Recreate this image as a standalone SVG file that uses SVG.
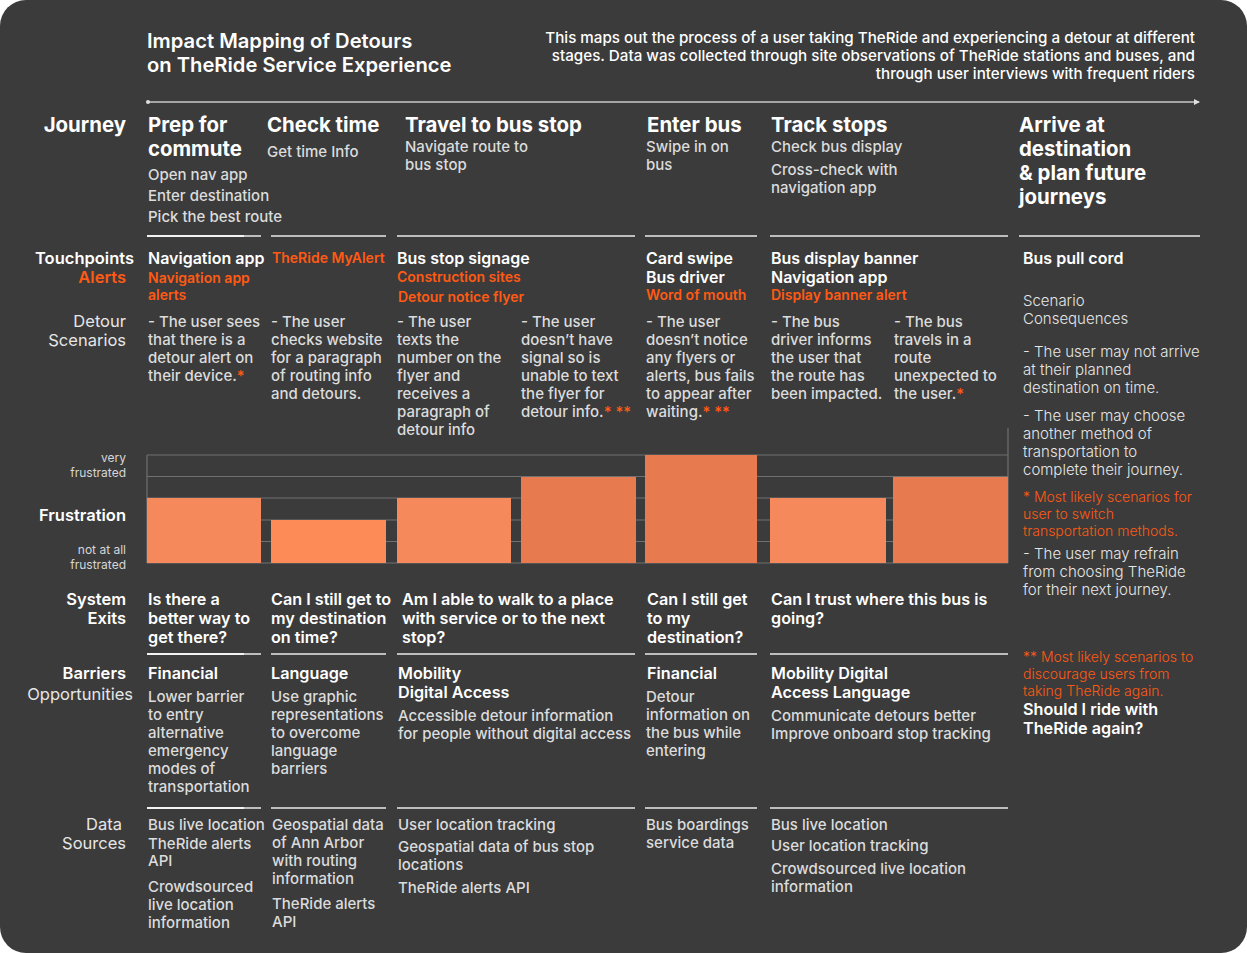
<svg xmlns="http://www.w3.org/2000/svg" width="1247" height="953" viewBox="0 0 1247 953">
<style>
text{font-family:Inter,"Noto Sans","Liberation Sans",sans-serif}
.title{font-size:20.2px;font-weight:600;fill:#ffffff}
.desc{font-size:15.2px;font-weight:500;fill:#ffffff;text-anchor:end}
.h{font-size:20.4px;font-weight:700;fill:#ffffff}
.rl{font-size:16.5px;font-weight:600;fill:#ffffff;text-anchor:end}
.rlr{font-size:16.5px;font-weight:400;fill:#e6e6e6;text-anchor:end}
.sm{font-size:12px;font-weight:400;fill:#d6d6d6;text-anchor:end}
.b{font-size:15px;font-weight:500;fill:#dcdcdc}
.tp{font-size:16px;font-weight:600;fill:#ffffff}
.tpo{font-size:14px;font-weight:600;fill:#ff5a14}
.o{fill:#ff5a14}
.q{font-size:16.2px;font-weight:600;fill:#ffffff}
.bs{font-size:16.2px;font-weight:600;fill:#ffffff}
.rc{font-size:15px;font-weight:300;fill:#e6e6e6}
.rco{font-size:14px;font-weight:300;fill:#ff5a14}
.sep{stroke:#bdbdbd;stroke-width:2}
.sepw{stroke:#f2f2f2;stroke-width:2}
.grid{stroke:#707070;stroke-width:1.2}
.bl{fill:#f5895b}
.bx{fill:#fd8b58}
.bd{fill:#e77b4f}
</style>
<defs>
<marker id="ah" viewBox="0 0 6 6" refX="5" refY="3" markerWidth="6" markerHeight="6" orient="auto" markerUnits="userSpaceOnUse"><path d="M0,0 L6,3 L0,6 z" fill="#e0e0e0"/></marker>
</defs>
<rect x="0" y="0" width="1247" height="953" fill="#ffffff"/>
<rect x="0" y="0" width="1247" height="953" rx="26" fill="#3b3b3b"/>

<g id="header">
<text class="title" x="147" y="48">Impact Mapping of Detours</text>
<text class="title" x="147" y="72">on TheRide Service Experience</text>
<text class="desc" x="1195" y="43">This maps out the process of a user taking TheRide and experiencing a detour at different</text>
<text class="desc" x="1195" y="61">stages. Data was collected through site observations of TheRide stations and buses, and</text>
<text class="desc" x="1195" y="79">through user interviews with frequent riders</text>
</g>

<g id="connectors">
<line x1="148" y1="102" x2="1199" y2="102" stroke="#c8c8c8" stroke-width="1.5" marker-end="url(#ah)"/>
<circle cx="148" cy="102" r="2" fill="#e0e0e0"/>
<g class="sep">
<line x1="147" y1="236" x2="261" y2="236"/><line x1="271" y1="236" x2="386" y2="236"/><line x1="397" y1="236" x2="635" y2="236"/><line x1="645" y1="236" x2="757" y2="236"/><line x1="770" y1="236" x2="1008" y2="236"/><line x1="1019" y1="236" x2="1200" y2="236"/>
<line x1="147" y1="654" x2="261" y2="654"/><line x1="271" y1="654" x2="386" y2="654"/><line x1="397" y1="654" x2="635" y2="654"/><line x1="645" y1="654" x2="757" y2="654"/><line x1="770" y1="654" x2="1008" y2="654"/>
<line x1="147" y1="808" x2="261" y2="808"/><line x1="271" y1="808" x2="386" y2="808"/><line x1="397" y1="808" x2="635" y2="808"/><line x1="645" y1="808" x2="757" y2="808"/><line x1="770" y1="808" x2="1008" y2="808"/>
</g>
<g class="sepw">
<line x1="147" y1="236" x2="244" y2="236"/>
<line x1="147" y1="654" x2="244" y2="654"/>
<line x1="147" y1="808" x2="244" y2="808"/>
</g>
</g>

<g id="journey">
<text class="h" x="126" y="132" text-anchor="end">Journey</text>
<text class="h" x="148" y="132">Prep for</text>
<text class="h" x="148" y="156">commute</text>
<text class="b" x="148" y="180">Open nav app</text>
<text class="b" x="148" y="201">Enter destination</text>
<text class="b" x="148" y="222">Pick the best route</text>
<text class="h" x="267" y="132">Check time</text>
<text class="b" x="267" y="157">Get time Info</text>
<text class="h" x="405" y="132">Travel to bus stop</text>
<text class="b" x="405" y="152">Navigate route to</text>
<text class="b" x="405" y="170">bus stop</text>
<text class="h" x="647" y="132">Enter bus</text>
<text class="b" x="646" y="152">Swipe in on</text>
<text class="b" x="646" y="170">bus</text>
<text class="h" x="771" y="132">Track stops</text>
<text class="b" x="771" y="152">Check bus display</text>
<text class="b" x="771" y="175">Cross-check with</text>
<text class="b" x="771" y="193">navigation app</text>
<text class="h" x="1019" y="132">Arrive at</text>
<text class="h" x="1019" y="156">destination</text>
<text class="h" x="1019" y="180">&amp; plan future</text>
<text class="h" x="1019" y="204">journeys</text>
</g>

<g id="touchpoints">
<text class="rl" x="134" y="264">Touchpoints</text>
<text class="rl o" x="126" y="283">Alerts</text>
<text class="tp" x="148" y="264">Navigation app</text>
<text class="tpo" x="148" y="283">Navigation app</text>
<text class="tpo" x="148" y="300">alerts</text>
<text class="tpo" x="272" y="263">TheRide MyAlert</text>
<text class="tp" x="397" y="264">Bus stop signage</text>
<text class="tpo" x="397" y="282">Construction sites</text>
<text class="tpo" x="398" y="302">Detour notice flyer</text>
<text class="tp" x="646" y="264">Card swipe</text>
<text class="tp" x="646" y="283">Bus driver</text>
<text class="tpo" x="646" y="300">Word of mouth</text>
<text class="tp" x="771" y="264">Bus display banner</text>
<text class="tp" x="771" y="283">Navigation app</text>
<text class="tpo" x="771" y="300">Display banner alert</text>
<text class="tp" x="1023" y="264">Bus pull cord</text>
</g>

<g id="scenarios">
<text class="rlr" x="126" y="327">Detour</text>
<text class="rlr" x="126" y="346">Scenarios</text>
<text class="b" x="148" y="327">- The user sees</text>
<text class="b" x="148" y="345">that there is a</text>
<text class="b" x="148" y="363">detour alert on</text>
<text class="b" x="148" y="381">their device.<tspan class="o">*</tspan></text>
<text class="b" x="271" y="327">- The user</text>
<text class="b" x="271" y="345">checks website</text>
<text class="b" x="271" y="363">for a paragraph</text>
<text class="b" x="271" y="381">of routing info</text>
<text class="b" x="271" y="399">and detours.</text>
<text class="b" x="397" y="327">- The user</text>
<text class="b" x="397" y="345">texts the</text>
<text class="b" x="397" y="363">number on the</text>
<text class="b" x="397" y="381">flyer and</text>
<text class="b" x="397" y="399">receives a</text>
<text class="b" x="397" y="417">paragraph of</text>
<text class="b" x="397" y="435">detour info</text>
<text class="b" x="521" y="327">- The user</text>
<text class="b" x="521" y="345">doesn’t have</text>
<text class="b" x="521" y="363">signal so is</text>
<text class="b" x="521" y="381">unable to text</text>
<text class="b" x="521" y="399">the flyer for</text>
<text class="b" x="521" y="417">detour info.<tspan class="o">* **</tspan></text>
<text class="b" x="646" y="327">- The user</text>
<text class="b" x="646" y="345">doesn’t notice</text>
<text class="b" x="646" y="363">any flyers or</text>
<text class="b" x="646" y="381">alerts, bus fails</text>
<text class="b" x="646" y="399">to appear after</text>
<text class="b" x="646" y="417">waiting.<tspan class="o">* **</tspan></text>
<text class="b" x="771" y="327">- The bus</text>
<text class="b" x="771" y="345">driver informs</text>
<text class="b" x="771" y="363">the user that</text>
<text class="b" x="771" y="381">the route has</text>
<text class="b" x="771" y="399">been impacted.</text>
<text class="b" x="894" y="327">- The bus</text>
<text class="b" x="894" y="345">travels in a</text>
<text class="b" x="894" y="363">route</text>
<text class="b" x="894" y="381">unexpected to</text>
<text class="b" x="894" y="399">the user.<tspan class="o">*</tspan></text>
</g>

<g id="consequences">
<text class="rc" x="1023" y="306">Scenario</text>
<text class="rc" x="1023" y="324">Consequences</text>
<text class="rc" x="1023" y="357">- The user may not arrive</text>
<text class="rc" x="1023" y="375">at their planned</text>
<text class="rc" x="1023" y="393">destination on time.</text>
<text class="rc" x="1023" y="421">- The user may choose</text>
<text class="rc" x="1023" y="439">another method of</text>
<text class="rc" x="1023" y="457">transportation to</text>
<text class="rc" x="1023" y="475">complete their journey.</text>
<text class="rco" x="1023" y="502">* Most likely scenarios for</text>
<text class="rco" x="1023" y="519">user to switch</text>
<text class="rco" x="1023" y="536">transportation methods.</text>
<text class="rc" x="1023" y="559">- The user may refrain</text>
<text class="rc" x="1023" y="577">from choosing TheRide</text>
<text class="rc" x="1023" y="595">for their next journey.</text>
<text class="rco" x="1023" y="662">** Most likely scenarios to</text>
<text class="rco" x="1023" y="679">discourage users from</text>
<text class="rco" x="1023" y="696">taking TheRide again.</text>
<text class="q" x="1023" y="715">Should I ride with</text>
<text class="q" x="1023" y="734">TheRide again?</text>
</g>

<g id="frustration">
<text class="sm" x="126" y="462">very</text>
<text class="sm" x="126" y="477">frustrated</text>
<text class="rl" x="126" y="521">Frustration</text>
<text class="sm" x="126" y="554">not at all</text>
<text class="sm" x="126" y="569">frustrated</text>
<g class="grid">
<line x1="147" y1="455" x2="1008" y2="455"/>
<line x1="147" y1="476.5" x2="1008" y2="476.5"/>
<line x1="147" y1="498" x2="1008" y2="498"/>
<line x1="147" y1="520" x2="1008" y2="520"/>
<line x1="147" y1="541.5" x2="1008" y2="541.5"/>
<line x1="147" y1="563" x2="1008" y2="563"/>
<line x1="147" y1="455" x2="147" y2="563"/>
<line x1="1008" y1="428" x2="1008" y2="563"/>
</g>
<rect class="bl" x="147" y="498" width="114" height="65"/>
<rect class="bx" x="271" y="520" width="115" height="43"/>
<rect class="bl" x="397" y="498" width="114" height="65"/>
<rect class="bd" x="521" y="477" width="115" height="86"/>
<rect class="bd" x="645" y="455" width="112" height="108"/>
<rect class="bl" x="770" y="498" width="116" height="65"/>
<rect class="bd" x="893" y="477" width="115" height="86"/>
</g>

<g id="exits">
<text class="rl" x="126" y="605">System</text>
<text class="rl" x="126" y="624">Exits</text>
<text class="q" x="148" y="605">Is there a</text>
<text class="q" x="148" y="624">better way to</text>
<text class="q" x="148" y="643">get there?</text>
<text class="q" x="271" y="605">Can I still get to</text>
<text class="q" x="271" y="624">my destination</text>
<text class="q" x="271" y="643">on time?</text>
<text class="q" x="402" y="605">Am I able to walk to a place</text>
<text class="q" x="402" y="624">with service or to the next</text>
<text class="q" x="402" y="643">stop?</text>
<text class="q" x="647" y="605">Can I still get</text>
<text class="q" x="647" y="624">to my</text>
<text class="q" x="647" y="643">destination?</text>
<text class="q" x="771" y="605">Can I trust where this bus is</text>
<text class="q" x="771" y="624">going?</text>
</g>

<g id="barriers">
<text class="rl" x="126" y="679">Barriers</text>
<text class="rlr" x="133" y="700">Opportunities</text>
<text class="bs" x="148" y="679">Financial</text>
<text class="b" x="148" y="702">Lower barrier</text>
<text class="b" x="148" y="720">to entry</text>
<text class="b" x="148" y="738">alternative</text>
<text class="b" x="148" y="756">emergency</text>
<text class="b" x="148" y="774">modes of</text>
<text class="b" x="148" y="792">transportation</text>
<text class="bs" x="271" y="679">Language</text>
<text class="b" x="271" y="702">Use graphic</text>
<text class="b" x="271" y="720">representations</text>
<text class="b" x="271" y="738">to overcome</text>
<text class="b" x="271" y="756">language</text>
<text class="b" x="271" y="774">barriers</text>
<text class="bs" x="398" y="679">Mobility</text>
<text class="bs" x="398" y="698">Digital Access</text>
<text class="b" x="398" y="721">Accessible detour information</text>
<text class="b" x="398" y="739">for people without digital access</text>
<text class="bs" x="647" y="679">Financial</text>
<text class="b" x="646" y="702">Detour</text>
<text class="b" x="646" y="720">information on</text>
<text class="b" x="646" y="738">the bus while</text>
<text class="b" x="646" y="756">entering</text>
<text class="bs" x="771" y="679">Mobility Digital</text>
<text class="bs" x="771" y="698">Access Language</text>
<text class="b" x="771" y="721">Communicate detours better</text>
<text class="b" x="771" y="739">Improve onboard stop tracking</text>
</g>

<g id="datasources">
<text class="rlr" x="122" y="830">Data</text>
<text class="rlr" x="126" y="849">Sources</text>
<text class="b" x="148" y="830">Bus live location</text>
<text class="b" x="148" y="849">TheRide alerts</text>
<text class="b" x="148" y="866">API</text>
<text class="b" x="148" y="892">Crowdsourced</text>
<text class="b" x="148" y="910">live location</text>
<text class="b" x="148" y="928">information</text>
<text class="b" x="272" y="830">Geospatial data</text>
<text class="b" x="272" y="848">of Ann Arbor</text>
<text class="b" x="272" y="866">with routing</text>
<text class="b" x="272" y="884">information</text>
<text class="b" x="272" y="909">TheRide alerts</text>
<text class="b" x="272" y="927">API</text>
<text class="b" x="398" y="830">User location tracking</text>
<text class="b" x="398" y="852">Geospatial data of bus stop</text>
<text class="b" x="398" y="870">locations</text>
<text class="b" x="398" y="893">TheRide alerts API</text>
<text class="b" x="646" y="830">Bus boardings</text>
<text class="b" x="646" y="848">service data</text>
<text class="b" x="771" y="830">Bus live location</text>
<text class="b" x="771" y="851">User location tracking</text>
<text class="b" x="771" y="874">Crowdsourced live location</text>
<text class="b" x="771" y="892">information</text>
</g>
</svg>
